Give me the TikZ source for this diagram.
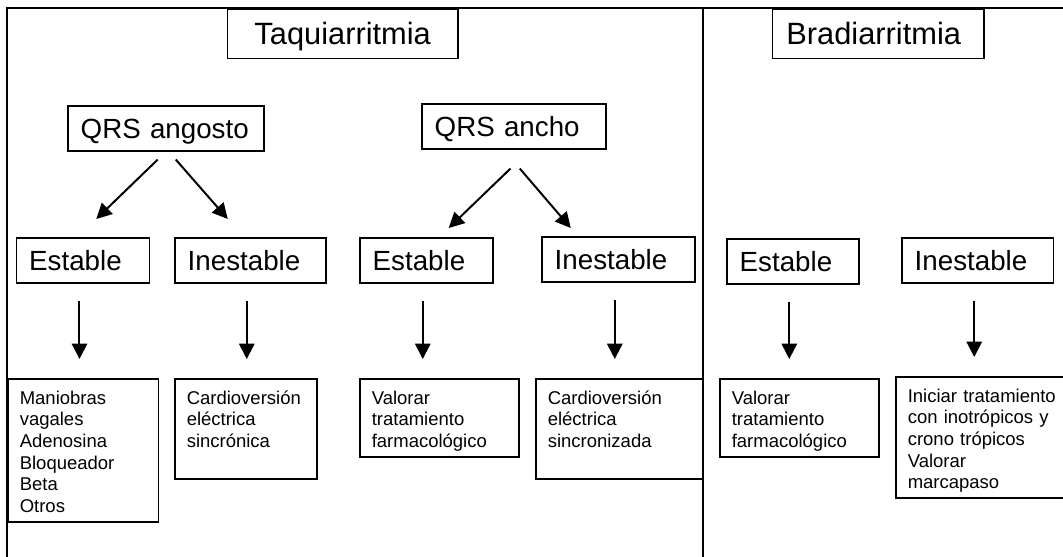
\documentclass[tikz,border=0pt]{standalone}
\usepackage{fontspec}
\setmainfont{Liberation Sans}
\usetikzlibrary{arrows.meta,calc}

\begin{document}
\begin{tikzpicture}[x=0.649pt, y=-0.649pt]
  \tikzstyle{titlebox} = [rectangle, draw=black, line width=1pt, anchor=north west, font=\fontsize{20}{24}\selectfont, minimum height=32.4pt, inner xsep=9pt, text height=14.3pt, text depth=0pt]
  \tikzstyle{medbox} = [rectangle, draw=black, line width=1pt, anchor=north west, font=\fontsize{18}{21.6}\selectfont, minimum height=29.2pt, inner xsep=8.4pt, align=left, text height=12.9pt, text depth=0pt]
  \tikzstyle{smallbox} = [rectangle, draw=black, line width=1pt, anchor=north west, font=\fontsize{12}{14.1}\selectfont, inner xsep=7.8pt, inner ysep=7.8pt, align=left, text height=8.6pt]
  \tikzstyle{arrow} = [line width=1.3pt, -{Triangle[length=10pt,width=10pt]}]
  \tikzstyle{frame} = [line width=1.3pt]
  \useasboundingbox (0,0) rectangle (1063,556);
  \clip (0,0) rectangle (1063,556);
  \draw [frame] (1070,8) -- (7,8) -- (7,560);
  \draw [frame] (703,8) -- (703,560);
  \node (taqui) [titlebox, text width=131.5pt, align=center] at (226.7,8) {Taquiarritmia};
  \node (bradi) [titlebox, text width=119.1pt, align=left] at (771.7,8) {Bradiarritmia};
  \node (qa) [medbox, text width=110.4pt] at (67,105) {QRS angosto};
  \node (qn) [medbox, text width=102.9pt] at (421,103) {QRS ancho};
  \node (e1) [medbox, text width=69.8pt] at (15.5,237) {Estable};
  \node (i1) [medbox, text width=81.2pt] at (174,237) {Inestable};
  \node (e2) [medbox, text width=69.5pt] at (359,237) {Estable};
  \node (i2) [medbox, text width=82.5pt] at (541,236) {Inestable};
  \node (e3) [medbox, text width=68.9pt] at (726,238) {Estable};
  \node (i3) [medbox, text width=81.8pt] at (901,237) {Inestable};
  \node (b1) [smallbox, text width=82.1pt, text depth=68.6pt] at (7,378) {Maniobras\\vagales\\Adenosina\\Bloqueador\\Beta\\Otros};
  \node (b2) [smallbox, text width=76.6pt, text depth=40.7pt] at (174,378) {Cardioversión\\eléctrica\\sincrónica};
  \node (b3) [smallbox, text width=87.6pt, text depth=26.4pt] at (359,378) {Valorar\\tratamiento\\farmacológico};
  \node (b4) [smallbox, text width=92.6pt, text depth=40.7pt] at (535,378) {Cardioversión\\eléctrica\\sincronizada};
  \node (b5) [smallbox, text width=87.6pt, text depth=26.4pt] at (719,378) {Valorar\\tratamiento\\farmacológico};
  \node (b6) [smallbox, text width=98pt, text depth=54.3pt] at (895,376) {Iniciar tratamiento\\con inotrópicos y\\crono trópicos\\Valorar\\marcapaso};
  \draw [arrow] ($(qa.south)+(-8,8)$) -- ($(e1.north)+(13.25,-18)$);
  \draw [arrow] ($(qa.south)+(10,8)$) -- ($(i1.north)+(-22.5,-18)$);
  \draw [arrow] ($(qn.south)+(-3.5,19)$) -- ($(e2.north)+(22.5,-9)$);
  \draw [arrow] ($(qn.south)+(5.75,19)$) -- ($(i2.north)+(-47.5,-8)$);
  \foreach \a/\b in {e1/b1,i1/b2,e2/b3,i2/b4,e3/b5,i3/b6}
    \draw [arrow] ($(\a.south)+(-3.5,17)$) -- ($(\a.south |- \b.north)+(-3.5,-19)$);
\end{tikzpicture}
\end{document}
